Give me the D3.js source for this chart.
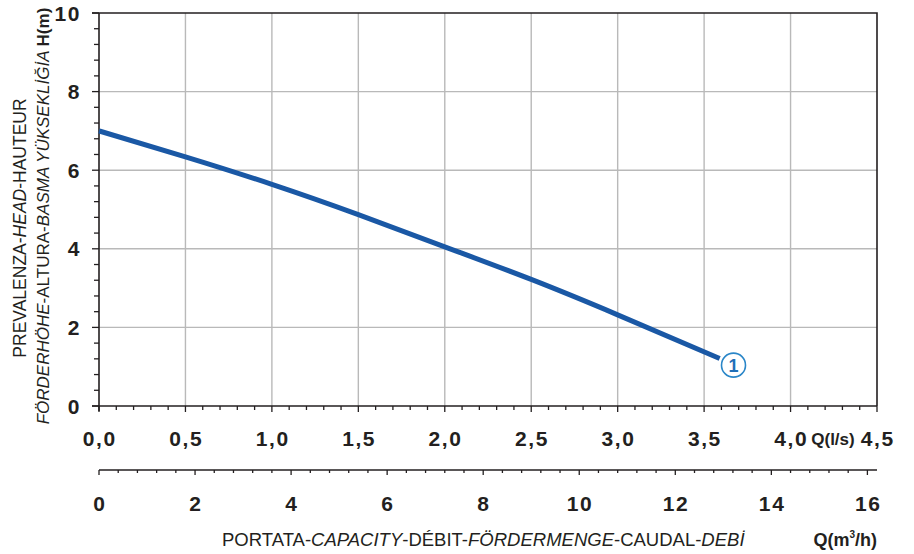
<!DOCTYPE html>
<html>
<head>
<meta charset="utf-8">
<script src="https://cdn.jsdelivr.net/npm/d3@7/dist/d3.min.js"></script>
<style>
  html, body { margin: 0; padding: 0; background: #fff; }
  svg { display: block; font-family: "Liberation Sans", Arial, Helvetica, sans-serif; }
  .num { font-weight: bold; font-size: 21px; fill: #231f20; letter-spacing: 1.6px; }
</style>
</head>
<body>
<svg id="chart" width="914" height="554"></svg>
<script>
// Pump performance curve: head H (m) against flow Q (l/s and m³/h)
const flowLs = [0, 0.5, 1.0, 1.5, 2.0, 2.5, 3.0, 3.59];
const headM  = [7.0, 6.34, 5.64, 4.87, 4.05, 3.22, 2.32, 1.21];

const qTicksLs   = [0, 0.5, 1.0, 1.5, 2.0, 2.5, 3.0, 3.5, 4.0, 4.5];
const qLabelsLs  = ["0,0", "0,5", "1,0", "1,5", "2,0", "2,5", "3,0", "3,5", "4,0", "4,5"];
const qTicksM3h  = [0, 2, 4, 6, 8, 10, 12, 14, 16];
const hTicks     = [0, 2, 4, 6, 8, 10];

const curveId = "1";
const curveTagQ = 3.67;
const curveTagH = 1.04;

const svg = d3.select("#chart");
const L = 99, R = 877, T = 13, B = 406;

const x   = d3.scaleLinear().domain([0, 4.5]).range([L, R]);
const xm3 = d3.scaleLinear().domain([0, 4.5 * 3.6]).range([L, R]);
const y   = d3.scaleLinear().domain([0, 10]).range([B, T]);

const ink = "#231f20";
const grid = "#b9b9b9";

// grid
svg.append("g").selectAll("line")
  .data(qTicksLs.filter(d => d > 0 && d < 4.5))
  .join("line")
  .attr("x1", d => x(d)).attr("x2", d => x(d))
  .attr("y1", T).attr("y2", B)
  .attr("stroke", grid).attr("stroke-width", 1.4);
svg.append("g").selectAll("line")
  .data(hTicks.filter(d => d > 0 && d < 10))
  .join("line")
  .attr("x1", L).attr("x2", R)
  .attr("y1", d => y(d)).attr("y2", d => y(d))
  .attr("stroke", grid).attr("stroke-width", 1.4);

// frame top/right
svg.append("path")
  .attr("d", `M${L - 7},${T}H${R}V${B}`)
  .attr("fill", "none").attr("stroke", ink).attr("stroke-width", 1.6);

// left axis
const yMinor = d3.range(0, 10.001, 0.4);
svg.append("g").selectAll("line")
  .data(yMinor)
  .join("line")
  .attr("x1", d => (Math.abs(d % 2) < 1e-6 || Math.abs(d % 2 - 2) < 1e-6) ? L - 7 : L - 5)
  .attr("x2", L)
  .attr("y1", d => y(d)).attr("y2", d => y(d))
  .attr("stroke", ink).attr("stroke-width", 1.3);
svg.append("line").attr("x1", L).attr("x2", L).attr("y1", T).attr("y2", B + 5)
  .attr("stroke", ink).attr("stroke-width", 1.6);
svg.append("g").selectAll("text")
  .data(hTicks)
  .join("text")
  .attr("class", "num")
  .attr("x", 81).attr("y", d => y(d) + 7.5)
  .attr("text-anchor", "end")
  .text(d => d);

// bottom axis (l/s)
const xMinor = d3.range(0, 4.5001, 0.1);
svg.append("g").selectAll("line")
  .data(xMinor)
  .join("line")
  .attr("x1", d => x(d)).attr("x2", d => x(d))
  .attr("y1", B)
  .attr("y2", (d, i) => i % 5 === 0 ? B + 6 : B + 4)
  .attr("stroke", ink).attr("stroke-width", 1.3);
svg.append("line").attr("x1", L - 7).attr("x2", R).attr("y1", B).attr("y2", B)
  .attr("stroke", ink).attr("stroke-width", 1.6);
svg.append("g").selectAll("text")
  .data(qTicksLs)
  .join("text")
  .attr("class", "num")
  .attr("x", d => x(d) + 0.8).attr("y", 446)
  .attr("text-anchor", "middle")
  .text((d, i) => qLabelsLs[i]);
svg.append("text")
  .attr("x", 833).attr("y", 445)
  .attr("text-anchor", "middle")
  .attr("font-weight", "bold").attr("font-size", 17).attr("fill", ink)
  .text("Q(l/s)");

// secondary axis (m³/h)
const ym = 470;
const m3Minor = d3.range(0, 16.001, 0.4);
svg.append("line").attr("x1", L).attr("x2", R).attr("y1", ym).attr("y2", ym)
  .attr("stroke", ink).attr("stroke-width", 1.6);
svg.append("g").selectAll("line")
  .data(m3Minor)
  .join("line")
  .attr("x1", d => xm3(d)).attr("x2", d => xm3(d))
  .attr("y1", ym)
  .attr("y2", (d, i) => i % 5 === 0 ? ym + 5 : ym + 3)
  .attr("stroke", ink).attr("stroke-width", 1.3);
svg.append("g").selectAll("text")
  .data(qTicksM3h)
  .join("text")
  .attr("class", "num")
  .attr("x", d => xm3(d) + 0.8).attr("y", 511)
  .attr("text-anchor", "middle")
  .text(d => d);

// axis titles
const xTitle = svg.append("text")
  .attr("x", 222).attr("y", 546)
  .attr("font-size", 18.5).attr("fill", ink);
[["PORTATA-", false], ["CAPACITY", true], ["-DÉBIT-", false], ["FÖRDERMENGE", true],
 ["-CAUDAL-", false], ["DEBİ", true]].forEach(([t, it]) => {
  xTitle.append("tspan").attr("font-style", it ? "italic" : "normal").text(t);
});
svg.append("text")
  .attr("x", 877).attr("y", 546)
  .attr("text-anchor", "end")
  .attr("font-weight", "bold").attr("font-size", 18).attr("fill", ink)
  .html("Q(m<tspan font-size='10' dy='-8'>3</tspan><tspan dy='8'>/h)</tspan>");

const yTitle1 = svg.append("text")
  .attr("transform", "translate(26,228) rotate(-90)")
  .attr("text-anchor", "middle")
  .attr("font-size", 17.5).attr("fill", ink);
[["PREVALENZA-", false], ["HEAD", true], ["-HAUTEUR", false]].forEach(([t, it]) => {
  yTitle1.append("tspan").attr("font-style", it ? "italic" : "normal").text(t);
});
const yTitle2 = svg.append("text")
  .attr("transform", "translate(49,216) rotate(-90)")
  .attr("text-anchor", "middle")
  .attr("font-size", 17).attr("fill", ink);
[["FÖRDERHÖHE", "italic", "normal"], ["-ALTURA-", "normal", "normal"],
 ["BASMA YÜKSEKLİĞİA ", "italic", "normal"], ["H(m)", "normal", "bold"]].forEach(([t, st, wt]) => {
  yTitle2.append("tspan").attr("font-style", st).attr("font-weight", wt).text(t);
});

// performance curve
const pts = flowLs.map((q, i) => [q, headM[i]]);
const line = d3.line()
  .x(d => x(d[0])).y(d => y(d[1]))
  .curve(d3.curveNatural);
svg.append("path")
  .datum(pts)
  .attr("d", line)
  .attr("fill", "none")
  .attr("stroke", "#1a58a5")
  .attr("stroke-width", 5)
  .attr("stroke-linecap", "butt");

// curve identifier
const tag = svg.append("g").attr("transform", `translate(${x(curveTagQ)},${y(curveTagH)})`);
tag.append("circle").attr("r", 12)
  .attr("fill", "#fff").attr("stroke", "#2a86c8").attr("stroke-width", 1.6);
tag.append("text")
  .attr("y", 6.5).attr("text-anchor", "middle")
  .attr("font-weight", "bold").attr("font-size", 18).attr("fill", "#1f6fb7")
  .text(curveId);
</script>
</body>
</html>
